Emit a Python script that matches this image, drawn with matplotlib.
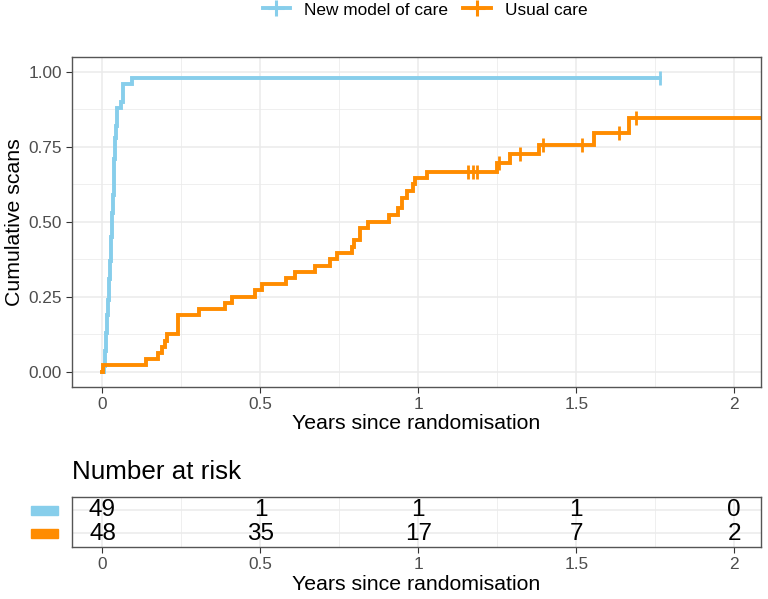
import numpy as np
import matplotlib
matplotlib.use('Agg')
import matplotlib.pyplot as plt
from matplotlib.lines import Line2D
from matplotlib.patches import Rectangle
from matplotlib.transforms import blended_transform_factory

plt.rcParams['font.family'] = ['Liberation Sans', 'DejaVu Sans']

# data
groups = ['New model of care', 'Usual care']
colours = ['#87CEEB', '#FF8C00']

new_times = [0, 0.005, 0.008, 0.011, 0.014, 0.017, 0.020, 0.023, 0.026, 0.029,
             0.032, 0.035, 0.038, 0.041, 0.044, 0.047, 0.058, 0.066, 0.092, 1.765]
new_cum = [0, 0.02, 0.07, 0.13, 0.19, 0.24, 0.31, 0.37, 0.45, 0.53,
           0.59, 0.65, 0.71, 0.78, 0.82, 0.88, 0.90, 0.96, 0.98, 0.98]
new_cens_t = [1.765]
new_cens_v = [0.98]

usual_times = [0, 0.003, 0.138, 0.177, 0.187, 0.198, 0.203, 0.238, 0.307, 0.388,
               0.409, 0.483, 0.504, 0.580, 0.610, 0.673, 0.720, 0.744, 0.789, 0.796,
               0.815, 0.842, 0.908, 0.937, 0.947, 0.963, 0.984, 0.990, 1.029, 1.250,
               1.290, 1.383, 1.556, 1.668, 2.2]
usual_cum = [0, 0.021, 0.042, 0.0625, 0.083, 0.104, 0.125, 0.1875, 0.208, 0.229,
             0.25, 0.271, 0.292, 0.3125, 0.333, 0.354, 0.375, 0.396, 0.417, 0.4375,
             0.479, 0.50, 0.521, 0.545, 0.58, 0.603, 0.626, 0.646, 0.667, 0.697,
             0.724, 0.754, 0.797, 0.847, 0.847]
usual_cens_t = [1.158, 1.174, 1.185, 1.255, 1.322, 1.396, 1.517, 1.635, 1.689]
usual_cens_v = [0.667, 0.667, 0.667, 0.697, 0.724, 0.754, 0.754, 0.797, 0.847]

risk_times = [0, 0.5, 1, 1.5, 2]
risk_new = [49, 1, 1, 1, 0]
risk_usual = [48, 35, 17, 7, 2]

W, H = 768, 599
fig = plt.figure(figsize=(W / 100, H / 100), dpi=100)

left, right = 71.7, 761
ax = fig.add_axes([left / W, 1 - 386.7 / H, (right - left) / W, (386.7 - 56.7) / H])
tab = fig.add_axes([left / W, 1 - 547.3 / H, (right - left) / W, (547.3 - 496.7) / H])

grid_col = '#EBEBEB'
tick_col = '#4D4D4D'
xlim = (-0.0975, 2.085)
xmajor = [0, 0.5, 1, 1.5, 2]
xminor = [0.25, 0.75, 1.25, 1.75]


def style(a):
    for s in a.spines.values():
        s.set_color('#555555')
        s.set_linewidth(1.0)
    a.set_axisbelow(True)
    a.tick_params(which='major', length=4.1, width=0.8, color='#333333',
                  labelcolor=tick_col, labelsize=12.4, pad=3)
    a.tick_params(which='minor', length=0)


# main panel
ax.set_xlim(*xlim)
ax.set_ylim(-0.05, 1.05)
ax.set_xticks(xmajor)
ax.set_xticks(xminor, minor=True)
ax.set_xticklabels(['0', '0.5', '1', '1.5', '2'])
ax.set_yticks([0, 0.25, 0.5, 0.75, 1.0])
ax.set_yticks([0.125, 0.375, 0.625, 0.875], minor=True)
ax.set_yticklabels(['0.00', '0.25', '0.50', '0.75', '1.00'])
ax.grid(which='major', color=grid_col, lw=1.1)
ax.grid(which='minor', color=grid_col, lw=0.55)
style(ax)

ax.step(new_times, new_cum, where='post', color=colours[0], lw=2.8, solid_joinstyle='miter')
ax.step(usual_times, usual_cum, where='post', color=colours[1], lw=2.8, solid_joinstyle='miter')
ax.plot(new_cens_t, new_cens_v, ls='none', marker='|', ms=10.5, mew=2.0, color=colours[0])
ax.plot(usual_cens_t, usual_cens_v, ls='none', marker='|', ms=10.5, mew=2.0, color=colours[1])

ax.set_xlabel('Years since randomisation', fontsize=15.3, labelpad=2)
ax.set_ylabel('Cumulative scans', fontsize=15.3, labelpad=3)

handles = [Line2D([], [], color=c, lw=2.8, marker='+', ms=11, mew=2.2) for c in colours]
fig.legend(handles, groups, loc='center', bbox_to_anchor=(425 / W, 1 - 10 / H), ncol=2,
           frameon=False, fontsize=12.4, handlelength=1.6, handletextpad=0.8,
           columnspacing=0.9)

# risk table
tab.set_xlim(*xlim)
tab.set_ylim(0.4, 2.6)
tab.set_xticks(xmajor)
tab.set_xticks(xminor, minor=True)
tab.set_xticklabels(['0', '0.5', '1', '1.5', '2'])
tab.set_yticks([1, 2])
tab.set_yticklabels([])
tab.grid(which='major', color=grid_col, lw=1.1)
tab.grid(which='minor', axis='x', color=grid_col, lw=0.55)
style(tab)
tab.tick_params(axis='y', length=0)

for t, n1, n2 in zip(risk_times, risk_new, risk_usual):
    tab.text(t, 2, str(n1), ha='center', va='center', fontsize=17.5)
    tab.text(t, 1, str(n2), ha='center', va='center', fontsize=17.5)

tab.set_xlabel('Years since randomisation', fontsize=15.3, labelpad=2)

trans = blended_transform_factory(fig.transFigure, tab.transData)
for row, c in zip([2, 1], colours):
    fig.add_artist(Rectangle((30.7 / W, row - 0.2), (58.3 - 30.7) / W, 0.4,
                             transform=trans, color=c, clip_on=False))

fig.text(left / W, 1 - 471.7 / H, 'Number at risk', fontsize=18.7, va='center', ha='left')

fig.savefig('out.png', dpi=100)
